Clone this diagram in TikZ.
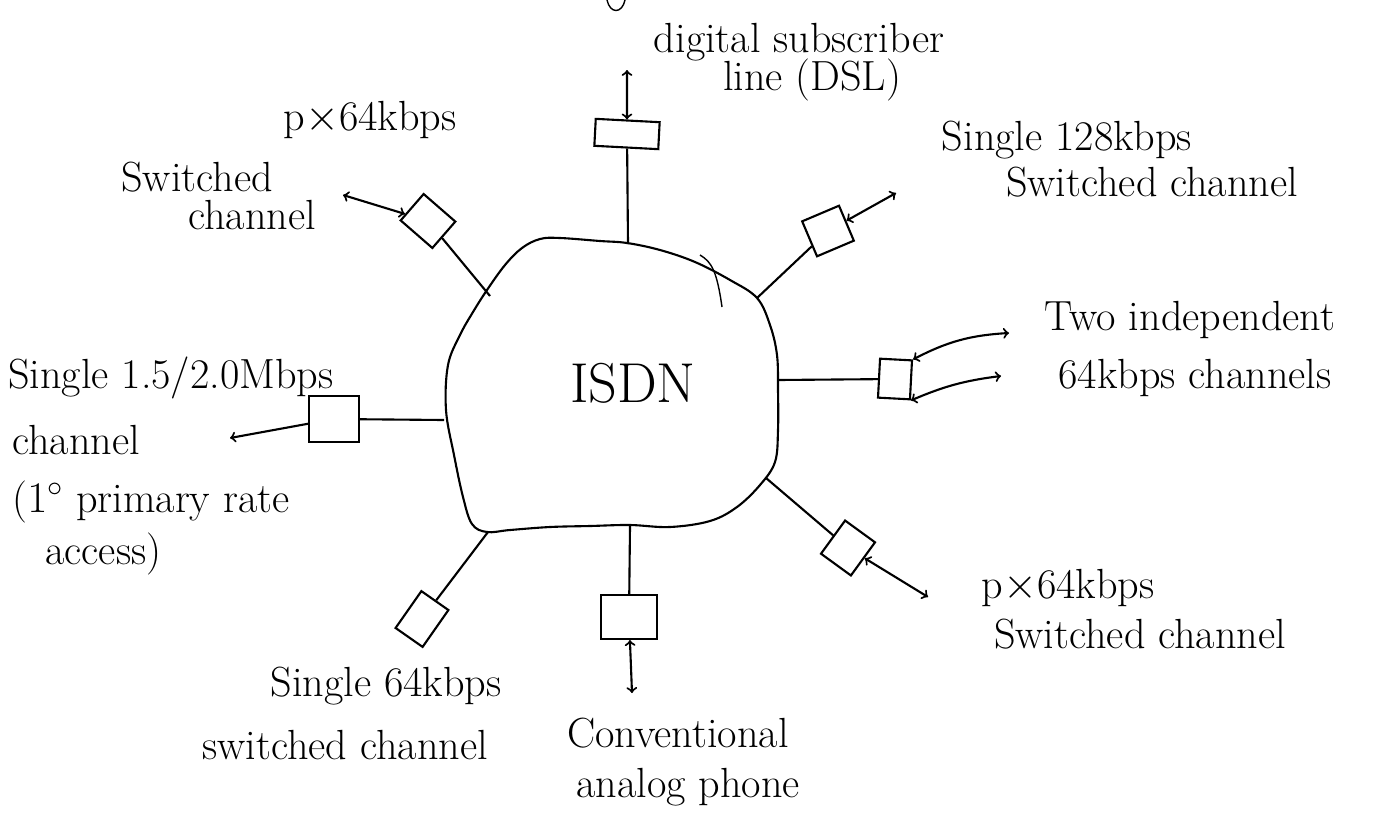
\documentclass[tikz,border=0pt]{standalone}
\usepackage{amsmath,amssymb}
\usepackage{xcolor}
\usepackage{tikz}
\tikzset{
portboxv1/.style={rectangle, draw=black!100,fill=white!100,very thick, inner sep=0pt},
labelnodev1/.style={inner sep=0pt, font=\fontsize{24}{28}\selectfont},
cloudtextv1/.style={inner sep=0pt, font=\fontsize{32}{36}\selectfont},
}

\begin{document}
\begin{tikzpicture}[x=0.02cm,y=-0.02cm]
\useasboundingbox (0,0) rectangle (1378,825);
\draw[very thick,black] plot[smooth cycle, tension=0.6] coordinates {(560,238) (600,241) (627,243) (660,250) (695,262) (730,280) (757,298) (770,325) (777,355) (778,390) (778,430) (775,462) (760,485) (737,507) (710,521) (670,527) (630,525) (590,526) (550,527) (510,530) (487,532) (472,524) (463,497) (454,455) (446,410) (448,365) (460,335) (473,312) (487,290) (505,265) (522,248) (540,239)};
\draw[thick,black] (700,255) .. controls (712,262) and (717,272) .. (722,307);
\draw[thick,black] (607,0) .. controls (610,14) and (622,14) .. (625,0);
\node[cloudtextv1] at (633,383) (isdn) {ISDN};
\coordinate (bT) at (628,244);
\coordinate (bTL) at (490,296);
\coordinate (bTR) at (757,298);
\coordinate (bR) at (778,380);
\coordinate (bL) at (444,420);
\coordinate (bBL) at (488,532);
\coordinate (bB) at (630,526);
\coordinate (bBR) at (766,478);

\node[portboxv1, minimum width=1.28cm, minimum height=0.54cm, rotate=-3] at (627,134) (dslbox) {};
\node[portboxv1, minimum width=0.84cm, minimum height=0.7cm, rotate=-41] at (428,221) (tlbox) {};
\node[portboxv1, minimum width=0.8cm, minimum height=0.76cm, rotate=23] at (828,231) (trbox) {};
\node[portboxv1, minimum width=0.64cm, minimum height=0.78cm, rotate=-3] at (895,379) (rbox) {};
\node[portboxv1, minimum width=1.0cm, minimum height=0.92cm] at (334,419) (lbox) {};
\node[portboxv1, minimum width=0.66cm, minimum height=0.9cm, rotate=-35] at (422,619) (blbox) {};
\node[portboxv1, minimum width=1.12cm, minimum height=0.88cm] at (629,617) (bbox) {};
\node[portboxv1, minimum width=0.74cm, minimum height=0.82cm, rotate=-36] at (848,548) (brbox) {};

\coordinate (dslend) at (627,70);
\coordinate (tlend) at (343,195);
\coordinate (trend) at (896,193);
\coordinate (rendone) at (1009,333);
\coordinate (rendtwo) at (1001,376);
\coordinate (lend) at (230,438);
\coordinate (phoneend) at (632,693);
\coordinate (brend) at (928,597);

\draw[very thick,black] (dslbox) -- (bT);
\draw[very thick,black] (tlbox) -- (bTL);
\draw[very thick,black] (trbox) -- (bTR);
\draw[very thick,black] (rbox) -- (bR);
\draw[very thick,black] (lbox) -- (bL);
\draw[very thick,black] (blbox) -- (bBL);
\draw[very thick,black] (bbox) -- (bB);
\draw[very thick,black] (brbox) -- (bBR);

\draw[very thick,black,<->] (dslbox) -- (dslend);
\draw[very thick,black,<->] (tlbox) -- (tlend);
\draw[very thick,black,<->] (trbox) -- (trend);
\draw[very thick,black,<->] (rbox.north east) to[bend left=12] (rendone);
\draw[very thick,black,<->] (rbox.south east) to[bend left=8] (rendtwo);
\draw[very thick,black,->] (lbox) -- (lend);
\draw[very thick,black,<->] (bbox) -- (phoneend);
\draw[very thick,black,<->] (brbox) -- (brend);

\node[labelnodev1] at (799,42) (dslone) {digital subscriber};
\node[labelnodev1] at (812,80) (dsltwo) {line (DSL)};
\node[labelnodev1] at (370,120) (tlone) {p$\times$64kbps};
\node[labelnodev1] at (197,177) (tltwo) {Switched};
\node[labelnodev1] at (252,215) (tlthree) {channel};
\node[labelnodev1] at (1067,140) (trone) {Single 128kbps};
\node[labelnodev1] at (1152,182) (trtwo) {Switched channel};
\node[labelnodev1] at (1190,320) (rone) {Two independent};
\node[labelnodev1] at (1195,378) (rtwo) {64kbps channels};
\node[labelnodev1, anchor=west] at (8,378) (lone) {Single 1.5/2.0Mbps};
\node[labelnodev1, anchor=west] at (12,440) (ltwo) {channel};
\node[labelnodev1, anchor=west] at (12,502) (lthree) {($1^{\circ}$ primary rate};
\node[labelnodev1, anchor=west] at (45,554) (lfour) {access)};
\node[labelnodev1] at (1068,588) (brone) {p$\times$64kbps};
\node[labelnodev1] at (1140,634) (brtwo) {Switched channel};
\node[labelnodev1] at (386,686) (blone) {Single 64kbps};
\node[labelnodev1] at (345,745) (bltwo) {switched channel};
\node[labelnodev1] at (678,733) (bone) {Conventional};
\node[labelnodev1] at (688,787) (btwo) {analog phone};
\end{tikzpicture}
\end{document}
